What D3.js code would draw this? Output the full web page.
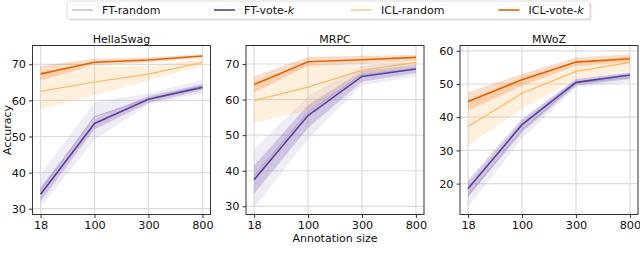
<!DOCTYPE html>
<html><head><meta charset="utf-8">
<script src="https://cdn.jsdelivr.net/npm/d3@7"></script>
<style>body{margin:0;background:#fff}svg{display:block;font-family:"DejaVu Sans",sans-serif}</style>
</head><body><svg id="c" width="640" height="262"></svg>
<script>
const sizes = ["18","100","300","800"];
const seriesNames = ["FT-random","FT-vote-k","ICL-random","ICL-vote-k"];
const seriesColors = ["#b2abd2","#5e3c99","#fdb863","#e66101"];
const panelTitles = ["HellaSwag","MRPC","MWoZ"];
const yTicks = [[30,40,50,60,70],[30,40,50,60,70],[20,30,40,50,60]];
const yDomains = [[28.4,75.2],[27.7,75.2],[10.7,61.6]];

// HellaSwag
const hsFTrandom = [35.0,55.5,60.5,64.0];
const hsFTvote = [34.0,53.6,60.3,63.6];
const hsICLrandom = [62.5,65.1,67.25,70.55];
const hsICLvote = [67.35,70.55,71.2,72.3];
const hsFTrandomLo = [30.5,49.0,58.8,62.0], hsFTrandomHi = [39.5,59.5,62.0,65.8];
const hsFTvoteLo = [32.0,52.0,59.3,62.8], hsFTvoteHi = [36.0,55.0,61.2,64.5];
const hsICLrandomLo = [57.5,61.5,65.5,69.5], hsICLrandomHi = [67.5,69.5,69.5,71.5];
const hsICLvoteLo = [65.5,69.8,70.5,71.8], hsICLvoteHi = [69.5,71.5,71.9,72.8];
// MRPC
const mrFTrandom = [38.5,56.5,67.0,68.8];
const mrFTvote = [37.5,55.5,66.5,68.6];
const mrICLrandom = [59.7,63.5,68.2,70.45];
const mrICLvote = [64.2,70.65,71.2,71.85];
const mrFTrandomLo = [29.5,49.0,64.0,66.5], mrFTrandomHi = [46.0,61.0,69.5,70.5];
const mrFTvoteLo = [33.5,52.0,65.0,67.5], mrFTvoteHi = [41.5,58.5,68.0,69.7];
const mrICLrandomLo = [53.5,57.0,67.0,69.5], mrICLrandomHi = [65.0,70.0,69.5,71.5];
const mrICLvoteLo = [62.0,69.5,70.0,71.0], mrICLvoteHi = [66.5,72.0,72.3,72.5];
// MWoZ
const mwFTrandom = [16.5,36.2,50.2,52.0];
const mwFTvote = [18.5,37.75,50.5,52.7];
const mwICLrandom = [37.2,47.2,53.8,56.5];
const mwICLvote = [44.75,51.3,56.6,57.6];
const mwFTrandomLo = [13.0,33.5,49.0,50.5], mwFTrandomHi = [20.0,39.0,51.5,53.5];
const mwFTvoteLo = [16.0,35.5,49.5,51.5], mwFTvoteHi = [21.0,39.5,51.5,53.5];
const mwICLrandomLo = [31.5,42.5,51.5,54.0], mwICLrandomHi = [45.0,52.0,56.5,58.5];
const mwICLvoteLo = [42.0,49.5,55.5,56.5], mwICLvoteHi = [47.5,53.0,58.0,59.0];

const panels = [
  {mean:[hsFTrandom,hsFTvote,hsICLrandom,hsICLvote], lo:[hsFTrandomLo,hsFTvoteLo,hsICLrandomLo,hsICLvoteLo], hi:[hsFTrandomHi,hsFTvoteHi,hsICLrandomHi,hsICLvoteHi]},
  {mean:[mrFTrandom,mrFTvote,mrICLrandom,mrICLvote], lo:[mrFTrandomLo,mrFTvoteLo,mrICLrandomLo,mrICLvoteLo], hi:[mrFTrandomHi,mrFTvoteHi,mrICLrandomHi,mrICLvoteHi]},
  {mean:[mwFTrandom,mwFTvote,mwICLrandom,mwICLvote], lo:[mwFTrandomLo,mwFTvoteLo,mwICLrandomLo,mwICLvoteLo], hi:[mwFTrandomHi,mwFTvoteHi,mwICLrandomHi,mwICLvoteHi]}
];

const boxes = [{x0:32.5,x1:210.5},{x0:246,x1:424},{x0:460,x1:638}];
const plotTop = 45.5, plotBottom = 214.5;
const svg = d3.select("#c");
const lineW = [1.2,1.6,1.2,1.6];

boxes.forEach((b,pi)=>{
  const g = svg.append("g");
  const x = d3.scalePoint().domain(sizes).range([b.x0,b.x1]).padding(0.15);
  const y = d3.scaleLinear().domain(yDomains[pi]).range([plotBottom,plotTop]);
  g.append("g").selectAll("line").data(sizes).join("line")
    .attr("x1",d=>x(d)).attr("x2",d=>x(d)).attr("y1",plotTop).attr("y2",plotBottom)
    .attr("stroke","#dcdcdc").attr("stroke-width",1.2);
  g.append("g").selectAll("line").data(yTicks[pi]).join("line")
    .attr("x1",b.x0).attr("x2",b.x1).attr("y1",d=>y(d)).attr("y2",d=>y(d))
    .attr("stroke","#dcdcdc").attr("stroke-width",1.2);
  const P = panels[pi];
  const area = d3.area().x((d,i)=>x(sizes[i])).y0(d=>y(d[0])).y1(d=>y(d[1]));
  const line = d3.line().x((d,i)=>x(sizes[i])).y(d=>y(d));
  [0,1,2,3].forEach(s=>{
    const pts = P.lo[s].map((v,i)=>[v,P.hi[s][i]]);
    g.append("path").attr("d",area(pts)).attr("fill",seriesColors[s]).attr("fill-opacity",0.22).attr("stroke","none");
  });
  [0,1,2,3].forEach(s=>{
    g.append("path").attr("d",line(P.mean[s])).attr("fill","none")
      .attr("stroke",seriesColors[s]).attr("stroke-width",lineW[s]);
  });
  const xa = g.append("g").attr("transform",`translate(0,${plotBottom})`)
    .call(d3.axisBottom(x).tickSize(3.5).tickPadding(2.5));
  const ya = g.append("g").attr("transform",`translate(${b.x0},0)`)
    .call(d3.axisLeft(y).tickValues(yTicks[pi]).tickSize(3.5).tickPadding(3));
  [xa,ya].forEach(a=>{
    a.select(".domain").remove();
    a.selectAll("text").attr("font-size","11.3px").attr("fill","#111").attr("font-family","DejaVu Sans");
    a.selectAll("line").attr("stroke","#333");
  });
  g.append("rect").attr("x",b.x0).attr("y",plotTop).attr("width",b.x1-b.x0).attr("height",plotBottom-plotTop)
    .attr("fill","none").attr("stroke","#333").attr("stroke-width",1);
  g.append("text").attr("x",(b.x0+b.x1)/2).attr("y",plotTop-3).attr("text-anchor","middle")
    .attr("font-size","11px").attr("fill","#111").text(panelTitles[pi]);
});

svg.append("text").attr("transform","translate(10.5,130) rotate(-90)").attr("text-anchor","middle")
  .attr("font-size","11px").attr("fill","#111").text("Accuracy");
svg.append("text").attr("x",335).attr("y",242).attr("text-anchor","middle")
  .attr("font-size","11px").attr("fill","#111").text("Annotation size");

const lg = svg.append("g");
lg.append("rect").attr("x",68.5).attr("y",2.5).attr("width",523).attr("height",18).attr("rx",2)
  .attr("fill","#cfcfcf").attr("opacity",0.6);
lg.append("rect").attr("x",67).attr("y",1).attr("width",523).attr("height",18).attr("rx",2)
  .attr("fill","#fff").attr("stroke","#d6d6d6").attr("stroke-width",0.8);
const lx = [72,214,351,498.5];
seriesNames.forEach((n,i)=>{
  lg.append("line").attr("x1",lx[i]).attr("x2",lx[i]+21).attr("y1",10).attr("y2",10)
    .attr("stroke",seriesColors[i]).attr("stroke-width",lineW[i]);
  const t = lg.append("text").attr("x",lx[i]+30).attr("y",14).attr("font-size","11px").attr("fill","#111");
  if(n.endsWith("-k")){
    t.append("tspan").text(n.slice(0,-1));
    t.append("tspan").attr("font-style","italic").text("k");
  } else t.text(n);
});
</script></body></html>
